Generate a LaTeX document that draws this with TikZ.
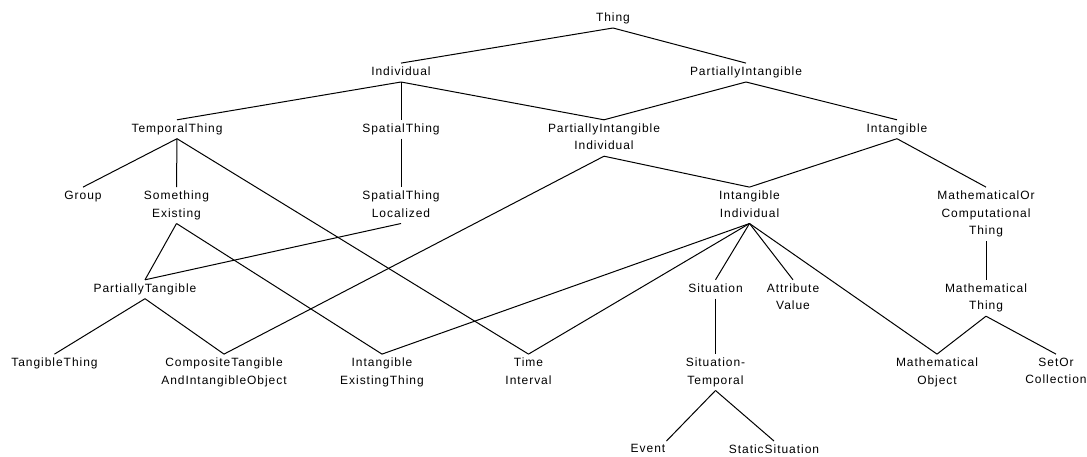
\documentclass[tikz,border=0pt]{standalone}
\usepackage{fontspec}
\setmainfont{Liberation Sans}[LetterSpace=8.0]
\begin{document}
\begin{tikzpicture}[x=1pt,y=-1pt,
  lbl/.style={anchor=north, align=center, inner xsep=1pt, inner ysep=3.5pt,
    text depth=2.8pt, font=\fontsize{12}{17.5}\selectfont},
  link/.style={line width=1pt, black}]
\useasboundingbox (0,0) rectangle (1087,456);
% level 0
\node[lbl] (thing) at (613,9.1) {Thing};
% level 1
\node[lbl] (indiv) at (401,63.1) {Individual};
\node[lbl] (partint) at (746,63.1) {PartiallyIntangible};
% level 2
\node[lbl] (temporal) at (177,119.8) {TemporalThing};
\node[lbl] (spatial) at (401,119.8) {SpatialThing};
\node[lbl] (pii) at (604,119.8) {PartiallyIntangible\\Individual};
\node[lbl] (intangible) at (897,119.8) {Intangible};
% level 3
\node[lbl] (group) at (83,187.1) {Group};
\node[lbl] (someex) at (176.5,187.1) {Something\\Existing};
\node[lbl] (stl) at (401,187.1) {SpatialThing\\Localized};
\node[lbl] (ii) at (749.5,187.1) {Intangible\\Individual};
\node[lbl] (moc) at (986,187.1) {MathematicalOr\\Computational\\Thing};
% level 4
\node[lbl] (ptang) at (145,279.8) {PartiallyTangible};
\node[lbl] (situation) at (715.5,279.8) {Situation};
\node[lbl] (attr) at (793,279.8) {Attribute\\Value};
\node[lbl] (maththing) at (986,279.8) {Mathematical\\Thing};
% level 5
\node[lbl] (tangible) at (54.5,354.1) {TangibleThing};
\node[lbl] (ctaio) at (224,354.1) {CompositeTangible\\AndIntangibleObject};
\node[lbl] (iet) at (382,354.1) {Intangible\\ExistingThing};
\node[lbl] (time) at (528.5,354.1) {Time\\Interval};
\node[lbl] (sittemp) at (715.5,354.1) {Situation-\\Temporal};
\node[lbl] (mathobj) at (937,354.1) {Mathematical\\Object};
\node[lbl] (setor) at (1056,354.1) {SetOr\\Collection};
% level 6
\node[lbl] (event) at (648,441) {Event};
\node[lbl] (static) at (774,441) {StaticSituation};
% connectors
\draw[link] (thing.south) -- (indiv.north);
\draw[link] (thing.south) -- (partint.north);
\draw[link] (indiv.south) -- (temporal.north);
\draw[link] (indiv.south) -- (spatial.north);
\draw[link] (indiv.south) -- (pii.north);
\draw[link] (partint.south) -- (pii.north);
\draw[link] (partint.south) -- (intangible.north);
\draw[link] (temporal.south) -- (group.north);
\draw[link] (temporal.south) -- (someex.north);
\draw[link] (temporal.south) -- (time.north);
\draw[link] (spatial.south) -- (stl.north);
\draw[link] (pii.south) -- (ii.north);
\draw[link] (pii.south) -- (ctaio.north);
\draw[link] (intangible.south) -- (ii.north);
\draw[link] (intangible.south) -- (moc.north);
\draw[link] (someex.south) -- (ptang.north);
\draw[link] (someex.south) -- (iet.north);
\draw[link] (stl.south) -- (ptang.north);
\draw[link] (ii.south) -- (iet.north);
\draw[link] (ii.south) -- (time.north);
\draw[link] (ii.south) -- (situation.north);
\draw[link] (ii.south) -- (attr.north);
\draw[link] (ii.south) -- (mathobj.north);
\draw[link] (moc.south) -- (maththing.north);
\draw[link] (ptang.south) -- (tangible.north);
\draw[link] (ptang.south) -- (ctaio.north);
\draw[link] (situation.south) -- (sittemp.north);
\draw[link] (maththing.south) -- (mathobj.north);
\draw[link] (maththing.south) -- (setor.north);
\draw[link] (sittemp.south) -- (event.north east);
\draw[link] (sittemp.south) -- (static.north);
\end{tikzpicture}
\end{document}
